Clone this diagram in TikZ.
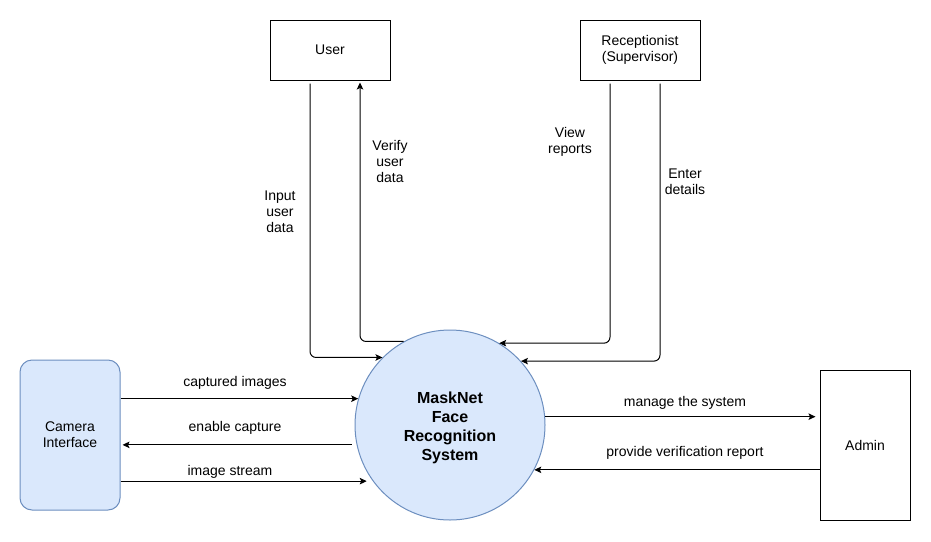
\documentclass[tikz,border=0pt]{standalone}
\usepackage{fontspec}
\setmainfont{Liberation Sans}
\usetikzlibrary{arrows.meta}
\definecolor{procfill}{HTML}{DAE8FC}
\definecolor{procline}{HTML}{6C8EBF}
\tikzset{
    box/.style={draw, line width=1pt, minimum width=120pt, minimum height=60pt,
                inner sep=0pt, align=center, font=\fontsize{14}{16}\selectfont},
    camera/.style={box, draw=procline, fill=procfill, rounded corners=12pt,
                   minimum width=100pt, minimum height=150pt},
    process/.style={circle, draw=procline, fill=procfill, line width=1pt,
                    minimum size=190pt, inner sep=0pt, align=center,
                    font=\fontsize{16}{19}\selectfont\bfseries},
    flow/.style={-{Stealth[length=7pt, width=6.5pt, inset=1.5pt]}, line width=1pt},
    elbow/.style={flow, rounded corners=6pt},
    note/.style={font=\fontsize{14}{16}\selectfont, align=center, inner sep=1pt},
}
\begin{document}
\begin{tikzpicture}[x=1pt, y=-1pt]

    \useasboundingbox (0,0) rectangle (931,541);

    \node[box] (user) at (330,50) {User};
    \node[box] (recep) at (640,50) {Receptionist\\(Supervisor)};
    \node[camera] (cam) at (70,435) {Camera\\Interface};
    \node[box, minimum width=90pt, minimum height=150pt] (admin) at (865,445) {Admin};
    \node[process] (sys) at (450,425) {};
    \node[font=\fontsize{16}{19}\selectfont\bfseries, align=center] (systxt) at (450,428) {MaskNet\\Face\\Recognition\\System};

    % user and receptionist flows
    \draw[elbow, shorten <=3pt] ([xshift=-20pt]user.south) |- (sys.135);
    \draw[elbow, shorten >=2pt] (sys.119) -| ([xshift=30pt]user.south);
    \draw[elbow, shorten <=3pt] ([xshift=-30pt]recep.south) |- (sys.59);
    \draw[elbow, shorten <=3pt] ([xshift=20pt]recep.south) |- (sys.42);
    \node[note] (inputlbl) at (280,212) {Input\\user\\data};
    \node[note] (verifylbl) at (390,161) {Verify\\user\\data};
    \node[note] (viewlbl) at (570,142) {View\\reports};
    \node[note] (enterlbl) at (685,182) {Enter\\details};

    % camera flows
    \draw[flow] (cam.east |- sys.164) -- (sys.164);
    \draw[flow, shorten <=5pt, shorten >=2pt] (sys.192) -- (sys.192 -| cam.east);
    \draw[flow, shorten >=6pt] (cam.east |- sys.216) -- (sys.216);
    \node[note] (capturedlbl) at (235,383) {captured images};
    \node[note] (enablelbl) at (235,428) {enable capture};
    \node[note] (streamlbl) at (230,472) {image stream};

    % admin flows
    \draw[flow, shorten >=4pt] (sys.5) -- (sys.5 -| admin.west);
    \draw[flow] (sys.-28 -| admin.west) -- (sys.-28);
    \node[note] (managelbl) at (685,403) {manage the system};
    \node[note] (reportlbl) at (685,453) {provide verification report};

\end{tikzpicture}
\end{document}
